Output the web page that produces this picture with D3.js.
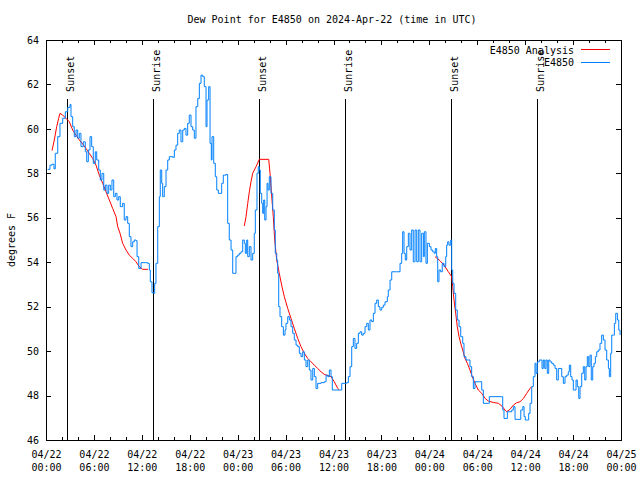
<!DOCTYPE html>
<html><head><meta charset="utf-8">
<script src="https://cdn.jsdelivr.net/npm/d3@7"></script>
<style>
body{margin:0;background:#fff}
svg text{font-family:"DejaVu Sans Mono",monospace;font-size:10px;fill:#000}
</style></head><body>
<svg id="c" width="640" height="480"></svg>
<script>
// ---------- data ----------
const chartTitle = "Dew Point for E4850 on 2024-Apr-22 (time in UTC)";
const yLabel = "degrees F";
const startTime = "2024-04-22T00:00:00Z";
const endTime = "2024-04-25T00:00:00Z";
const yDomain = [46, 64];
const yTicks = [46, 48, 50, 52, 54, 56, 58, 60, 62, 64];
const seriesNames = ["E4850 Analysis", "E4850"];

// observations: hours since start, dew point (F)
const obsHours = [
 0.21,0.5,0.75,1.0,1.16,1.47,1.75,2.09,2.42,2.72,
 3.01,3.13,3.34,3.54,3.76,3.97,4.17,4.38,4.67,4.92,
 5.1,5.3,5.51,5.72,5.92,6.17,6.35,6.6,6.8,7.01,
 7.23,7.43,7.64,7.85,8.05,8.26,8.48,8.68,8.89,9.1,
 9.3,9.6,9.8,10.02,10.23,10.43,10.64,10.86,11.06,11.27,
 11.4,11.61,11.9,12.43,12.73,12.94,13.06,13.27,13.49,13.61,
 13.77,13.99,14.19,14.31,14.49,14.61,14.81,15.03,15.24,15.44,
 15.87,16.07,16.28,16.49,16.69,16.9,17.12,17.32,17.53,17.74,
 17.94,18.16,18.37,18.57,18.78,19.0,19.2,19.41,19.62,19.82,
 20.04,20.16,20.37,20.54,20.7,20.79,21.0,21.2,21.38,21.58,
 21.79,22.0,22.2,22.54,22.75,22.95,23.17,23.38,23.58,23.79,
 24.0,24.2,24.42,24.63,24.83,24.96,25.13,25.26,25.46,25.67,
 25.88,26.08,26.21,26.42,26.58,26.71,26.83,27.01,27.14,27.26,
 27.39,27.55,27.68,27.8,27.96,28.17,28.39,28.59,28.71,28.89,
 29.01,29.14,29.3,29.51,29.72,29.93,30.05,30.27,30.47,30.68,
 30.89,31.09,31.31,31.52,31.72,31.93,32.14,32.35,32.56,32.77,
 32.97,33.18,33.4,33.6,33.81,34.02,34.44,34.85,35.07,35.28,
 35.48,35.69,35.85,36.73,37.03,37.65,37.86,38.07,38.28,38.48,
 38.69,38.9,39.11,39.32,39.53,39.73,39.95,40.16,40.36,40.57,
 40.78,40.99,41.2,41.41,41.61,41.82,42.04,42.24,42.45,42.74,
 42.86,43.08,43.29,43.91,44.33,44.54,44.66,44.83,44.99,45.17,
 45.37,45.58,45.79,45.99,46.21,46.42,46.62,46.83,47.04,47.25,
 47.37,47.58,47.75,48.0,48.21,48.42,48.62,48.75,48.92,49.05,
 49.21,49.42,49.62,49.84,50.05,50.17,50.3,50.46,50.68,50.8,
 50.93,51.09,51.3,51.5,51.72,51.93,52.18,52.34,52.59,52.88,
 53.09,53.3,53.51,53.72,54.26,54.56,54.76,55.39,55.51,57.06,
 57.19,57.35,57.6,57.77,58.1,58.32,58.52,58.73,59.23,59.45,
 59.7,59.86,60.02,60.27,60.44,60.61,60.82,61.02,61.23,61.36,
 61.52,61.77,61.98,62.11,62.27,62.45,62.61,62.77,62.95,63.11,
 63.32,63.53,63.74,63.95,64.15,64.36,64.58,64.78,64.99,65.2,
 65.4,65.53,65.7,65.87,66.03,66.24,66.37,66.53,66.71,66.87,
 67.08,67.28,67.46,67.62,67.78,67.96,68.12,68.28,68.46,68.62,
 68.79,68.96,69.16,69.37,69.58,69.79,70.0,70.21,70.42,70.54,
 70.71,70.84,71.04,71.17,71.34,71.55,71.72,71.88
];
const obsValues = [
 58.18,58.37,58.41,58.2,58.9,59.65,60.25,60.48,60.77,60.97,
 61.1,60.55,60.1,59.65,59.95,59.58,59.8,59.2,59.42,58.97,
 58.52,59.05,59.65,59.2,58.45,58.97,58.6,58.15,57.7,58.0,
 57.25,57.47,57.1,57.47,57.25,57.7,56.95,57.1,56.8,56.95,
 56.5,56.65,55.9,56.05,55.75,55.15,54.7,54.92,55.0,54.97,
 54.25,53.72,53.98,53.98,53.95,53.65,53.12,52.63,52.6,53.05,
 53.95,55.6,56.95,58.15,57.55,56.95,57.4,58.15,58.6,58.75,
 58.72,59.05,59.27,59.8,59.95,59.42,59.95,60.02,59.72,60.25,
 60.62,60.1,59.95,59.58,61.0,61.37,62.05,62.42,62.35,61.9,
 60.1,61.3,61.9,59.35,58.6,59.65,58.45,57.85,57.25,57.1,
 57.1,57.55,57.92,57.95,55.75,55.0,54.55,53.5,53.5,54.25,
 54.32,54.4,54.47,55.0,54.85,54.4,55.0,54.25,54.7,54.1,
 54.4,55.3,56.35,58.0,58.3,58.15,57.1,56.65,56.2,56.8,
 55.9,56.5,57.55,57.25,57.85,57.1,56.35,55.45,54.4,54.1,
 53.5,52.0,51.55,51.1,50.72,50.95,51.25,51.55,51.4,51.1,
 50.8,50.5,50.27,50.2,49.9,49.75,49.97,49.6,49.3,49.6,
 49.15,48.7,49.22,48.85,48.32,48.55,48.58,48.62,48.92,48.85,
 49.15,48.85,48.25,48.25,48.55,48.58,48.85,49.3,50.2,50.57,
 50.12,50.35,50.8,50.87,50.72,50.8,51.1,51.25,50.95,51.4,
 51.33,51.7,52.15,52.3,52.0,51.85,51.97,52.07,52.22,52.45,
 52.75,53.2,53.57,53.57,53.95,54.4,55.37,54.4,54.1,54.7,
 55.3,54.55,55.45,54.02,55.45,54.02,55.45,54.02,55.3,54.25,
 55.37,53.95,54.85,54.7,54.55,54.47,54.4,54.62,54.25,53.12,
 53.65,53.57,53.95,53.8,54.25,54.77,54.92,54.77,55.0,53.65,
 53.05,52.6,51.85,51.4,51.1,50.65,50.35,49.75,49.6,49.6,
 49.3,48.85,48.32,48.62,48.62,48.25,47.65,47.65,47.95,47.95,
 47.35,46.97,46.97,47.27,47.27,47.35,47.5,46.93,46.93,47.35,
 47.5,47.05,46.9,46.9,47.2,47.65,48.4,48.85,49.45,49.0,
 49.52,49.6,49.6,49.22,49.6,49.22,49.6,49.0,49.6,49.52,
 49.45,49.37,49.22,48.7,49.22,49.22,48.85,48.55,48.85,48.92,
 49.07,49.37,48.85,48.7,48.25,48.25,48.7,48.4,47.87,48.4,
 49.0,49.3,48.7,49.3,49.75,49.3,49.82,48.7,49.3,49.45,
 49.75,49.97,50.05,50.35,50.72,50.5,50.05,49.6,49.22,48.85,
 49.9,50.72,50.72,51.25,51.7,51.4,50.95,50.72
];

// analysis: hours since start, dew point (F); null separates segments
const anaHours = [
 0.75,1.04,1.34,1.59,1.75,2.09,2.5,2.92,3.34,3.76,4.17,4.6,5.01,5.42,5.85,
 6.26,6.67,7.1,7.51,7.93,8.35,8.77,8.98,9.27,9.6,10.02,10.43,10.86,11.27,11.68,
 12.11,12.77,
 null,
 24.83,25.05,25.26,25.46,25.67,25.88,26.3,26.71,27.89,28.05,28.3,28.46,28.64,28.89,
 29.21,29.55,29.84,30.27,30.68,31.09,31.52,31.93,32.35,32.77,33.18,33.6,34.02,34.44,
 34.85,35.28,35.69,36.1,36.53,36.73,
 null,
 48.71,49.33,49.84,50.38,50.8,50.93,51.09,51.3,51.5,51.72,51.93,52.18,52.47,52.76,
 53.09,53.38,53.72,54.13,54.56,54.99,55.4,56.03,56.65,57.08,57.47,57.68,58.1,58.52,
 58.94,59.36,59.78,60.19,60.61,60.82
];
const anaValues = [
 59.02,59.5,60.1,60.48,60.7,60.62,60.48,60.32,59.95,59.72,59.5,59.32,59.12,58.9,58.67,
 58.37,57.92,57.55,57.17,56.8,56.42,56.05,55.6,55.3,54.85,54.55,54.32,54.17,54.02,53.8,
 53.68,53.68,
 null,
 55.63,56.05,56.65,57.17,57.62,58.0,58.3,58.63,58.63,58.0,56.8,56.05,55.0,54.1,
 53.5,52.9,52.45,51.92,51.47,51.02,50.57,50.2,49.9,49.67,49.52,49.37,49.22,49.07,
 48.95,48.9,48.85,48.62,48.32,48.25,
 null,
 54.25,54.07,53.87,53.57,53.35,52.9,52.3,51.7,51.1,50.65,50.35,50.05,49.67,49.45,
 49.15,48.85,48.55,48.25,48.1,47.87,47.75,47.69,47.65,47.53,47.35,47.27,47.38,47.57,
 47.68,47.72,47.87,48.1,48.32,48.4
];

// sun events: hours since start
const eventHours = [2.63, 13.4, 26.67, 37.44, 50.71, 61.48];
const eventLabels = ["Sunset", "Sunrise", "Sunset", "Sunrise", "Sunset", "Sunrise"];
const eventTopValue = 61.35;

// ---------- drawing ----------
const W = 640, H = 480;
const L = 46, R = 621, T = 40, B = 440;
const blue = "#0080ff", red = "#ff0000";
const t0 = new Date(startTime), t1 = new Date(endTime);
const toDate = h => new Date(t0.getTime() + h * 3600e3);

const svg = d3.select("#c");
svg.append("rect").attr("width", W).attr("height", H).attr("fill", "#fff");

const x = d3.scaleUtc().domain([t0, t1]).range([L, R]);
const y = d3.scaleLinear().domain(yDomain).range([B, T]);

const majorTicks = d3.utcHour.every(6).range(t0, new Date(t1.getTime() + 1));
const minorTicks = d3.utcHour.every(2).range(t0, new Date(t1.getTime() + 1))
  .filter(d => d.getUTCHours() % 6 !== 0);

function styleAxis(g) {
  g.select(".domain").remove();
  g.attr("font-family", null).attr("font-size", null);
  g.selectAll("line").attr("stroke", "#000").attr("shape-rendering", "crispEdges");
}

// bottom axis major with labels
const fmtD = d3.utcFormat("%m/%d"), fmtT = d3.utcFormat("%H:%M");
const gB = svg.append("g").attr("transform", `translate(0,${B})`)
  .call(d3.axisBottom(x).tickValues(majorTicks).tickSizeInner(-5).tickSizeOuter(0).tickPadding(6));
gB.selectAll(".tick text").each(function(d) {
  const t = d3.select(this).attr("dy", null).attr("y", null).text(null);
  t.append("tspan").attr("x", 0).attr("y", 18).text(fmtD(d));
  t.append("tspan").attr("x", 0).attr("y", 31).text(fmtT(d));
});
styleAxis(gB);
const gBm = svg.append("g").attr("transform", `translate(0,${B})`)
  .call(d3.axisBottom(x).tickValues(minorTicks).tickSizeInner(-3).tickSizeOuter(0).tickFormat(""));
styleAxis(gBm);
// top axis (mirror)
const gT = svg.append("g").attr("transform", `translate(0,${T})`)
  .call(d3.axisTop(x).tickValues(majorTicks).tickSizeInner(-5).tickSizeOuter(0).tickFormat(""));
styleAxis(gT);
const gTm = svg.append("g").attr("transform", `translate(0,${T})`)
  .call(d3.axisTop(x).tickValues(minorTicks).tickSizeInner(-3).tickSizeOuter(0).tickFormat(""));
styleAxis(gTm);
// left axis
const gL = svg.append("g").attr("transform", `translate(${L},0)`)
  .call(d3.axisLeft(y).tickValues(yTicks).tickSizeInner(-5).tickSizeOuter(0).tickPadding(7).tickFormat(d3.format("d")));
styleAxis(gL);
// right axis mirror
const gR = svg.append("g").attr("transform", `translate(${R},0)`)
  .call(d3.axisRight(y).tickValues(yTicks).tickSizeInner(-5).tickSizeOuter(0).tickFormat(""));
styleAxis(gR);

// frame
svg.append("rect").attr("x", L + 0.5).attr("y", T + 0.5).attr("width", R - L).attr("height", B - T)
  .attr("fill", "none").attr("stroke", "#000").attr("stroke-width", 1);

// sun events
const ev = svg.append("g");
eventHours.forEach((h, i) => {
  const ex = Math.round(x(toDate(h))) + 0.5;
  ev.append("line").attr("x1", ex).attr("x2", ex).attr("y1", y(eventTopValue)).attr("y2", y(yDomain[0]))
    .attr("stroke", "#000").attr("stroke-width", 1).attr("shape-rendering", "crispEdges");
  ev.append("text").attr("transform", `translate(${ex + 6},${y(eventTopValue) - 7}) rotate(-90)`)
    .attr("text-anchor", "start").text(eventLabels[i]);
});

// analysis
const ana = anaHours.map((h, i) => ({ t: h == null ? null : toDate(h), v: anaValues[i] }));
svg.append("path").datum(ana)
  .attr("fill", "none").attr("stroke", red).attr("stroke-width", 1)
  .attr("d", d3.line().defined(d => d.v != null).x(d => x(d.t)).y(d => y(d.v)));

// observations
const obs = obsHours.map((h, i) => ({ t: toDate(h), v: obsValues[i] }));
svg.append("path").datum(obs)
  .attr("fill", "none").attr("stroke", blue).attr("stroke-width", 1)
  .attr("d", d3.line().x(d => x(d.t)).y(d => y(d.v)).curve(d3.curveStepAfter));

// title & y label
svg.append("text").attr("x", 332).attr("y", 23).attr("text-anchor", "middle").text(chartTitle);
svg.append("text").attr("transform", "translate(15,240) rotate(-90)").attr("text-anchor", "middle").text(yLabel);

// legend
const lg = svg.append("g");
[[seriesNames[0], red, 54, 49.5], [seriesNames[1], blue, 66, 62.5]].forEach(([name, col, ty, ly]) => {
  lg.append("text").attr("x", 574).attr("y", ty).attr("text-anchor", "end").text(name);
  lg.append("line").attr("x1", 581).attr("x2", 610).attr("y1", ly).attr("y2", ly)
    .attr("stroke", col).attr("stroke-width", 1);
});
</script>
</body></html>
